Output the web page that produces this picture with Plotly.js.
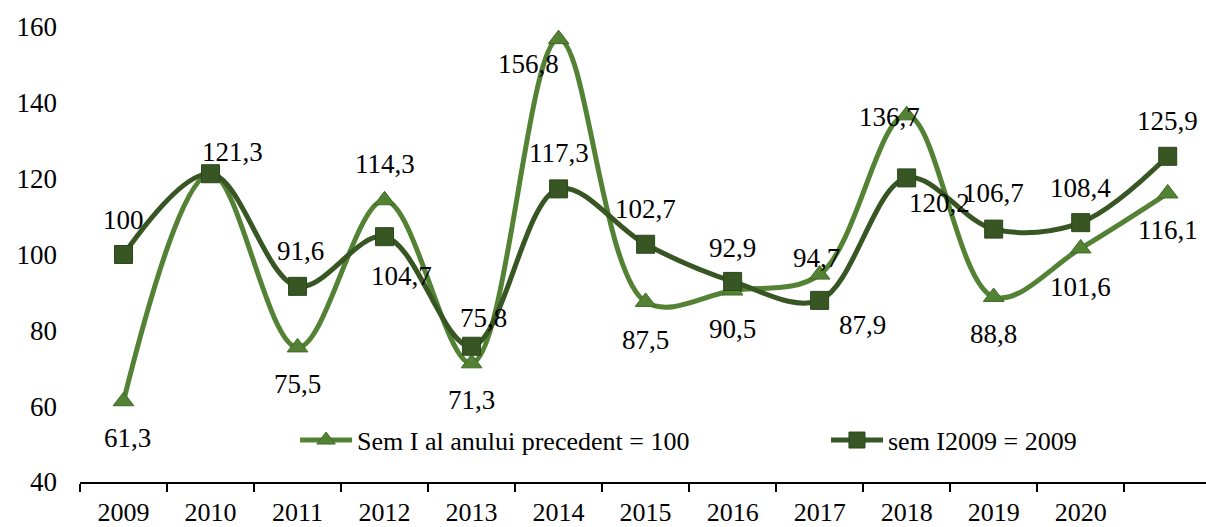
<!DOCTYPE html>
<html>
<head>
<meta charset="utf-8">
<script src="https://cdn.plot.ly/plotly-3.0.1.min.js"></script>
<style>
html,body{margin:0;padding:0;background:#fff;}
#chart{width:1206px;height:527px;}
</style>
</head>
<body>
<div id="chart"></div>
<script>
// Data
var yearLabels = ['2009','2010','2011','2012','2013','2014','2015','2016','2017','2018','2019','2020'];
var seriesPrevName = 'Sem I al anului precedent = 100';
var seriesPrev = [61.3, 121.3, 75.5, 114.3, 71.3, 156.8, 87.5, 90.5, 94.7, 136.7, 88.8, 101.6, 116.1];
var seriesBaseName = 'sem I2009 = 2009';
var seriesBase = [100, 121.3, 91.6, 104.7, 75.8, 117.3, 102.7, 92.9, 87.9, 120.2, 106.7, 108.4, 125.9];

// Label placement (px offsets: dx right, dy down); null = no label
var prevLabelOffsets = [[4,37], null, [0,37], [0,-36], [0,37], [-30,25], [0,38], [0,38], [-3,-17], [-17,2], [0,37], [0,39], [0,37]];
var baseLabelOffsets = [[0,-35], [22,-22], [3,-35], [17,39], [12,-28], [0,-36], [0,-35], [0,-33], [43,25], [33,25], [0,-36], [0,-35], [0,-35]];

var FONT = 'Liberation Serif, Times New Roman, serif';
var LIGHT = '#548235';
var DARK = '#375623';

var xIdx = seriesPrev.map(function(_, i){ return i; });
var tickPos = yearLabels.map(function(_, i){ return i; });
var boundaries = xIdx.map(function(i){ return i - 0.5; });

function fmt(v){
  return Number.isInteger(v) ? String(v) : v.toFixed(1).replace('.', ',');
}

var annotations = [];
function addLabels(vals, offs){
  vals.forEach(function(v, i){
    var o = offs[i];
    if (!o) return;
    annotations.push({
      x: xIdx[i], y: v, xref: 'x', yref: 'y',
      text: fmt(v), showarrow: false,
      xshift: o[0], yshift: -o[1],
      font: {family: FONT, size: 27, color: '#000'}
    });
  });
}
addLabels(seriesPrev, prevLabelOffsets);
addLabels(seriesBase, baseLabelOffsets);

var traces = [
  {
    x: xIdx, y: seriesPrev, name: seriesPrevName, type: 'scatter', mode: 'lines+markers',
    line: {color: LIGHT, width: 5, shape: 'spline', smoothing: 1},
    marker: {symbol: 'triangle-up', size: 18, color: LIGHT, line: {color: '#3f6a26', width: 1}},
    legend: 'legend',
    hoverinfo: 'skip'
  },
  {
    x: xIdx, y: seriesBase, name: seriesBaseName, type: 'scatter', mode: 'lines+markers',
    line: {color: DARK, width: 5, shape: 'spline', smoothing: 1},
    marker: {symbol: 'square', size: 18, color: DARK, line: {color: '#2c471b', width: 1}},
    legend: 'legend2',
    hoverinfo: 'skip'
  }
];

var legendCommon = {
  orientation: 'h', xanchor: 'left', y: 0.092, yanchor: 'middle',
  bgcolor: 'rgba(0,0,0,0)', font: {family: FONT, size: 26, color: '#000'},
  itemwidth: 52
};

var layout = {
  width: 1206, height: 527,
  margin: {l: 80, r: 0, t: 27, b: 45, pad: 0},
  paper_bgcolor: '#fff', plot_bgcolor: '#fff',
  font: {family: FONT, size: 27, color: '#000'},
  showlegend: true,
  legend: Object.assign({}, legendCommon, {x: 0.191}),
  legend2: Object.assign({}, legendCommon, {x: 0.6625}),
  xaxis: {
    range: [-0.5, 12.44], fixedrange: true,
    tickmode: 'array', tickvals: tickPos, ticktext: yearLabels,
    ticks: '', showgrid: false, zeroline: false,
    showline: true, linecolor: '#000', linewidth: 1.5,
    ticklabelstandoff: 6,
    tickfont: {family: FONT, size: 26, color: '#000'},
    minor: {tickmode: 'array', tickvals: boundaries, ticks: 'outside', ticklen: 8, tickwidth: 1.5, tickcolor: '#000', showgrid: false}
  },
  yaxis: {
    range: [40, 160], fixedrange: true,
    tickmode: 'array', tickvals: [40, 60, 80, 100, 120, 140, 160],
    ticks: '', showgrid: false, zeroline: false, showline: false,
    ticklabelstandoff: 22,
    tickfont: {family: FONT, size: 27, color: '#000'}
  },
  annotations: annotations
};

Plotly.newPlot('chart', traces, layout, {staticPlot: true, displayModeBar: false});
</script>
</body>
</html>
